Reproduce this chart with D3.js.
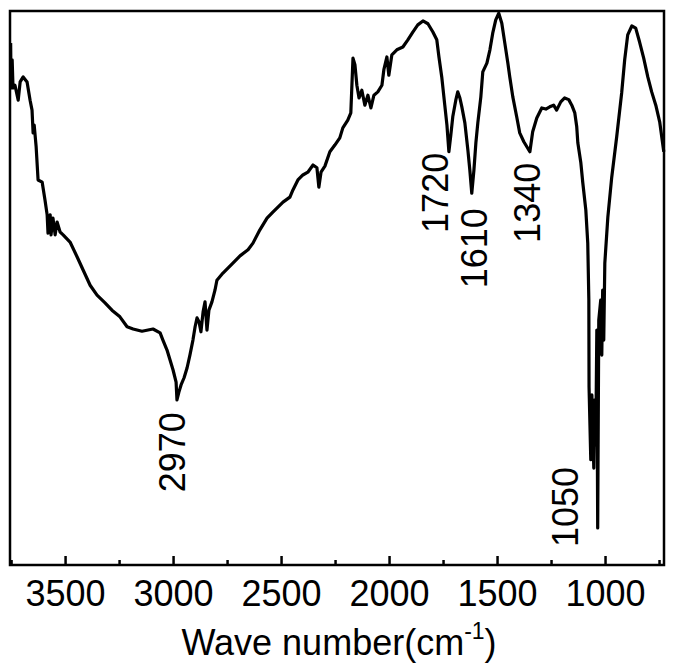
<!DOCTYPE html>
<html>
<head>
<meta charset="utf-8">
<script src="https://cdn.jsdelivr.net/npm/d3@7"></script>
<style>
  body { margin: 0; background: #fff; }
  svg { display: block; }
  text { font-family: "Liberation Sans", Arial, sans-serif; fill: #000; }
</style>
</head>
<body>
<div id="chart"></div>
<script>
// FTIR spectrum (wavenumber in cm-1, transmittance in arbitrary %)
var waveNumbers = [3752, 3750, 3745, 3741, 3732, 3717, 3708, 3694, 3676, 3662, 3653, 3648, 3643, 3634, 3625,
  3606, 3593, 3583, 3579, 3569, 3565, 3556, 3546, 3537, 3523, 3509, 3477, 3444, 3417, 3384, 3352, 3315, 3283,
  3246, 3213, 3185, 3144, 3093, 3060, 3047, 3028, 3014, 3000, 2986, 2982, 2973, 2963, 2949, 2935, 2922, 2908,
  2898, 2889, 2880, 2871, 2861, 2852, 2843, 2834, 2820, 2806, 2797, 2769, 2723, 2690, 2653, 2630, 2598, 2565,
  2538, 2491, 2459, 2445, 2422, 2399, 2376, 2352, 2334, 2325, 2315, 2297, 2274, 2251, 2228, 2214, 2191, 2177,
  2167, 2158, 2149, 2139, 2126, 2112, 2098, 2084, 2070, 2052, 2033, 2024, 2010, 2001, 1987, 1964, 1936, 1913,
  1890, 1867, 1843, 1820, 1797, 1779, 1769, 1756, 1742, 1732, 1723, 1714, 1705, 1691, 1682, 1672, 1663, 1649,
  1635, 1626, 1617, 1607, 1598, 1589, 1575, 1566, 1547, 1533, 1520, 1506, 1492, 1478, 1464, 1450, 1441, 1427,
  1409, 1395, 1376, 1362, 1348, 1335, 1316, 1293, 1274, 1256, 1238, 1224, 1205, 1187, 1168, 1154, 1140, 1131,
  1126, 1112, 1103, 1089, 1080, 1075, 1074, 1066, 1061, 1052, 1048, 1043, 1038, 1034, 1029, 1020, 1015, 1011,
  1006, 1001, 987, 969, 946, 923, 909, 895, 876, 858, 840, 821, 802, 784, 765, 747, 728];

var transmittance = [94.2, 86.1, 91.2, 86.1, 86.6, 83.9, 87.2, 88.1, 87.2, 83.9, 82.1, 78.0, 79.4, 75.5, 69.5,
  69.1, 65.9, 63.2, 59.9, 63.2, 59.6, 62.6, 59.6, 61.9, 60.1, 59.6, 58.3, 55.6, 53.3, 50.5, 48.7, 47.3, 46.0,
  44.8, 43.0, 42.6, 42.2, 42.6, 41.9, 40.6, 38.8, 37.0, 35.2, 33.0, 29.8, 31.2, 32.5, 33.8, 35.6, 37.9, 40.6,
  43.0, 44.6, 43.9, 42.1, 45.7, 47.5, 42.4, 46.0, 47.5, 49.6, 51.4, 52.7, 54.5, 55.8, 56.9, 58.1, 60.5, 62.6,
  63.7, 65.5, 66.4, 67.7, 69.5, 70.4, 70.9, 72.2, 71.7, 68.2, 70.9, 72.0, 74.6, 75.8, 77.1, 78.9, 80.3, 81.6,
  91.5, 90.3, 86.6, 84.3, 85.7, 83.0, 84.8, 82.5, 84.8, 85.4, 86.6, 89.4, 91.7, 88.4, 92.1, 93.0, 93.5, 94.8,
  96.2, 97.5, 98.2, 97.7, 96.2, 94.8, 91.7, 88.1, 83.0, 79.4, 74.6, 77.6, 80.9, 83.9, 85.4, 84.3, 82.7, 79.8,
  74.9, 71.3, 67.1, 71.3, 76.2, 79.8, 84.5, 89.0, 90.6, 93.0, 96.0, 98.4, 99.6, 97.8, 94.2, 90.6, 88.1, 84.5,
  80.9, 78.0, 76.4, 75.5, 74.6, 78.2, 80.7, 82.5, 82.3, 82.7, 83.0, 82.1, 83.6, 84.3, 84.0, 83.0, 81.6, 79.1,
  76.2, 72.6, 69.0, 64.1, 58.1, 47.8, 32.1, 19.0, 30.7, 17.5, 29.8, 21.7, 42.4, 6.7, 44.2, 47.8, 37.9, 49.6,
  40.6, 54.5, 62.8, 70.0, 77.3, 85.2, 91.2, 95.7, 97.3, 96.9, 94.4, 91.5, 88.1, 85.4, 83.0, 80.0, 74.6];

var majorTicks = [3500, 3000, 2500, 2000, 1500, 1000];
var minorTicks = [3750, 3250, 2750, 2250, 1750, 1250, 750];

var peakLabels = ["2970", "1720", "1610", "1340", "1050"];
var peakLabelWave = [2945, 1728, 1547, 1302, 1126];
var peakLabelLevel = [27.6, 74.4, 64.4, 72.6, 17.7];

var width = 675, height = 669;
var margin = {left: 10, right: 11, top: 11, bottom: 104};
var fontSize = 36;

var svg = d3.select('#chart').append('svg')
  .attr('width', width)
  .attr('height', height);

var x = d3.scaleLinear()
  .domain([3755, 727])
  .range([margin.left, width - margin.right]);

var y = d3.scaleLinear()
  .domain([0, 100])
  .range([height - margin.bottom, margin.top]);

var points = waveNumbers.map(function(w, i){
  return [w, transmittance[i]];
});

var line = d3.line()
  .x(function(d){ return x(d[0]); })
  .y(function(d){ return y(d[1]); });

svg.append('path')
  .datum(points)
  .attr('d', line)
  .attr('fill', 'none')
  .attr('stroke', '#000')
  .attr('stroke-width', 3.2)
  .attr('stroke-linejoin', 'round');

// frame
svg.append('rect')
  .attr('x', margin.left)
  .attr('y', margin.top)
  .attr('width', width - margin.left - margin.right)
  .attr('height', height - margin.top - margin.bottom)
  .attr('fill', 'none')
  .attr('stroke', '#000')
  .attr('stroke-width', 2.5);

// bottom axis, ticks pointing inward
var xAxis = svg.append('g')
  .attr('transform', 'translate(0,' + (height - margin.bottom) + ')');

xAxis.append('g')
  .call(d3.axisBottom(x).tickValues(majorTicks).tickFormat(d3.format('d'))
    .tickSizeInner(-9).tickSizeOuter(0).tickPadding(15))
  .call(function(g){
    g.select('.domain').remove();
    g.selectAll('line').attr('stroke-width', 2.5);
    g.selectAll('text').attr('font-size', fontSize).attr('font-family', '"Liberation Sans", Arial, sans-serif');
  });

xAxis.append('g')
  .call(d3.axisBottom(x).tickValues(minorTicks).tickSizeInner(-5).tickSizeOuter(0).tickFormat(''))
  .call(function(g){
    g.select('.domain').remove();
    g.selectAll('line').attr('stroke-width', 2.5);
  });

var title = svg.append('text')
  .attr('x', (margin.left + width - margin.right) / 2 + 2)
  .attr('y', 655)
  .attr('text-anchor', 'middle')
  .attr('font-size', fontSize);
title.append('tspan').text('Wave number(cm');
title.append('tspan').attr('font-size', 23).attr('dy', -16).text('-1');
title.append('tspan').attr('dy', 16).text(')');

// peak annotations, written upward
peakLabels.forEach(function(label, i){
  var px = x(peakLabelWave[i]), py = y(peakLabelLevel[i]);
  svg.append('text')
    .attr('transform', 'translate(' + px + ',' + py + ') rotate(-90)')
    .attr('text-anchor', 'end')
    .attr('font-size', fontSize)
    .text(label);
});
</script>
</body>
</html>
